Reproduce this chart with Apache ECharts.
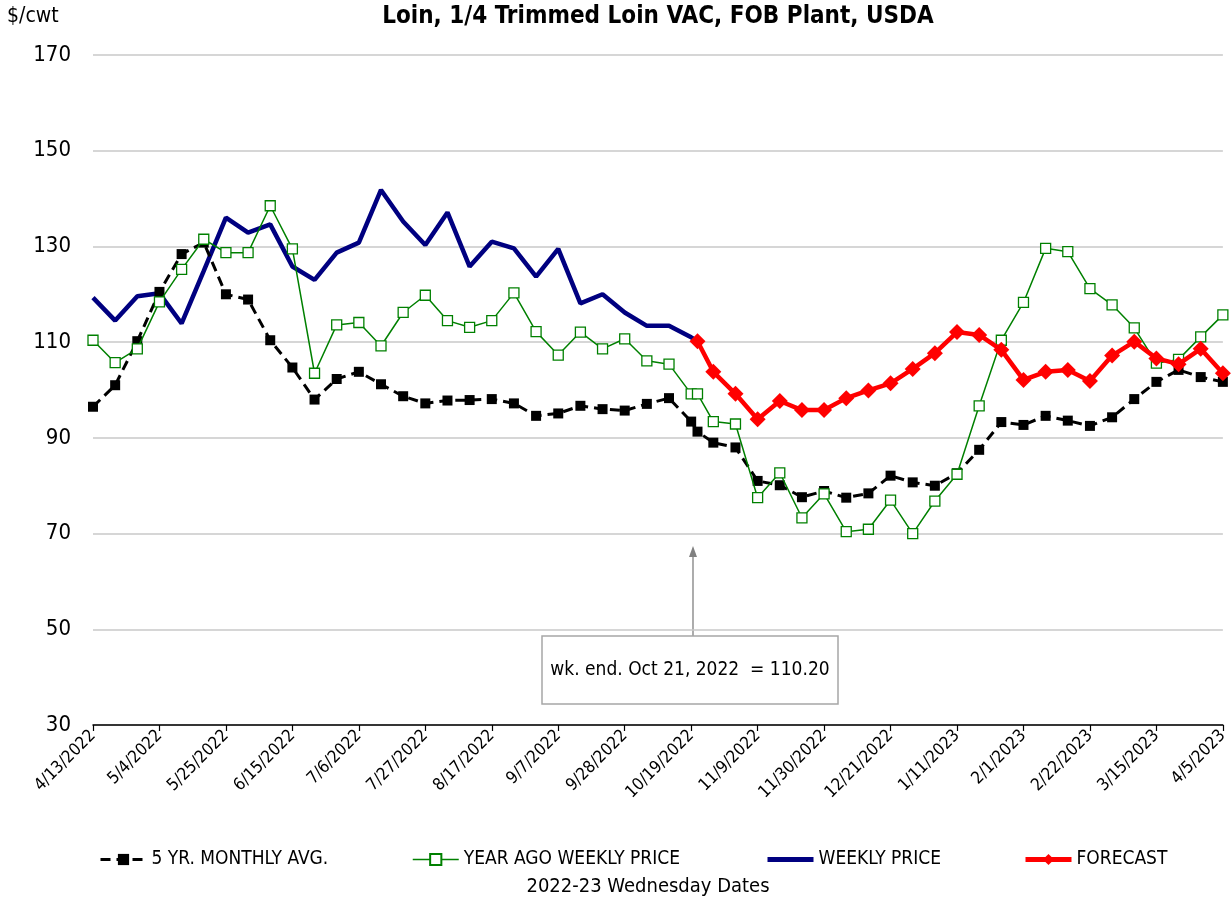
<!DOCTYPE html>
<html>
<head>
<meta charset="utf-8">
<title>Loin, 1/4 Trimmed Loin VAC, FOB Plant, USDA</title>
<script src="https://cdn.jsdelivr.net/npm/echarts@6/dist/echarts.min.js"></script>
<style>
  html, body { margin: 0; padding: 0; background: #fff; }
  #chart { width: 1231px; height: 901px; }
</style>
</head>
<body>
<div id="chart"></div>
<script>
// weekly Wednesday dates, plus the Friday 10/21 where the forecast starts
var dates = [
  '4/13/2022', '4/20/2022', '4/27/2022', '5/4/2022', '5/11/2022', '5/18/2022', '5/25/2022',
  '6/1/2022', '6/8/2022', '6/15/2022', '6/22/2022', '6/29/2022', '7/6/2022', '7/13/2022',
  '7/20/2022', '7/27/2022', '8/3/2022', '8/10/2022', '8/17/2022', '8/24/2022', '8/31/2022',
  '9/7/2022', '9/14/2022', '9/21/2022', '9/28/2022', '10/5/2022', '10/12/2022', '10/19/2022',
  '10/21/2022',
  '10/26/2022', '11/2/2022', '11/9/2022', '11/16/2022', '11/23/2022', '11/30/2022', '12/7/2022',
  '12/14/2022', '12/21/2022', '12/28/2022', '1/4/2023', '1/11/2023', '1/18/2023', '1/25/2023',
  '2/1/2023', '2/8/2023', '2/15/2023', '2/22/2023', '3/1/2023', '3/8/2023', '3/15/2023',
  '3/22/2023', '3/29/2023', '4/5/2023'
];

var tickLabels = [
  '4/13/2022', '5/4/2022', '5/25/2022', '6/15/2022', '7/6/2022', '7/27/2022', '8/17/2022',
  '9/7/2022', '9/28/2022', '10/19/2022', '11/9/2022', '11/30/2022', '12/21/2022', '1/11/2023',
  '2/1/2023', '2/22/2023', '3/15/2023', '4/5/2023'
];

var fiveYrAvg = [
  96.5, 101.0, 110.2, 120.5, 128.4, 130.8, 120.0, 118.9, 110.4, 104.7, 98.0, 102.3, 103.8, 101.2,
  98.7, 97.2, 97.8, 97.9, 98.1, 97.2, 94.6, 95.1, 96.7, 96.0, 95.7, 97.1, 98.3, 93.4,
  91.3,
  89.0, 88.0, 81.0, 80.1, 77.6, 78.9, 77.5, 78.4, 82.1, 80.7, 80.0, 82.6, 87.5, 93.3,
  92.7, 94.6, 93.6, 92.5, 94.3, 98.1, 101.7, 104.2, 102.7, 101.7
];

var yearAgo = [
  110.4, 105.7, 108.6, 118.4, 125.2, 131.5, 128.7, 128.7, 138.5, 129.5, 103.5, 113.6, 114.1, 109.2,
  116.2, 119.8, 114.5, 113.1, 114.5, 120.3, 112.2, 107.3, 112.1, 108.6, 110.7, 106.1, 105.4, 99.2,
  99.2,
  93.4, 92.9, 77.5, 82.7, 73.3, 78.3, 70.4, 70.9, 77.0, 70.0, 76.8, 82.4, 96.7, 110.4,
  118.3, 129.6, 128.9, 121.2, 117.8, 113.0, 105.6, 106.4, 111.1, 115.7
];

var weekly = [
  119.3, 114.5, 119.6, 120.2, 113.9, 124.9, 136.0, 132.9, 134.6, 125.8, 123.0, 128.7, 130.8, 141.8,
  135.2, 130.3, 137.1, 125.8, 131.0, 129.6, 123.7, 129.5, 118.1, 120.0, 116.2, 113.4, 113.4, 111.0,
  110.2,
  null, null, null, null, null, null, null, null, null, null, null, null, null, null,
  null, null, null, null, null, null, null, null, null, null
];

var forecast = [
  null, null, null, null, null, null, null, null, null, null, null, null, null, null,
  null, null, null, null, null, null, null, null, null, null, null, null, null, null,
  110.2,
  103.8, 99.2, 93.9, 97.7, 95.8, 95.8, 98.3, 99.9, 101.4, 104.4, 107.7, 112.1, 111.5, 108.4,
  102.1, 103.8, 104.2, 101.9, 107.2, 110.1, 106.6, 105.4, 108.6, 103.5
];

var FONT = '"DejaVu Sans Condensed", "DejaVu Sans", sans-serif';

function dayOf(s) {
  var p = s.split('/');
  return Date.UTC(+p[2], +p[0] - 1, +p[1]) / 86400000;
}
var day0 = dayOf(dates[0]);
var xDays = dates.map(function (d) { return dayOf(d) - day0; });

function pairs(vals) {
  var out = [];
  for (var i = 0; i < vals.length; i++) {
    if (vals[i] != null) out.push([xDays[i], vals[i]]);
  }
  return out;
}

var chart = echarts.init(document.getElementById('chart'));

var legendBase = {
  orient: 'horizontal',
  top: 845,
  itemWidth: 46,
  itemHeight: 14,
  itemGap: 0,
  textStyle: { fontFamily: FONT, fontSize: 19, color: '#000' }
};

chart.setOption({
  animation: false,
  backgroundColor: '#fff',
  textStyle: { fontFamily: FONT },
  title: {
    text: 'Loin, 1/4 Trimmed Loin VAC, FOB Plant, USDA',
    left: 653,
    textAlign: 'center',
    top: 0,
    textStyle: { fontFamily: FONT, fontSize: 24, fontWeight: 'bold', color: '#000' }
  },
  legend: [
    Object.assign({}, legendBase, { left: 94,
      data: [{ name: '5 YR. MONTHLY AVG.', lineStyle: { width: 3 } }] }),
    Object.assign({}, legendBase, { left: 407,
      data: [{ name: 'YEAR AGO WEEKLY PRICE', lineStyle: { width: 1.5 } }] }),
    Object.assign({}, legendBase, { left: 760,
      data: [{ name: 'WEEKLY PRICE', itemStyle: { opacity: 0 }, lineStyle: { width: 5 } }] }),
    Object.assign({}, legendBase, { left: 1018,
      data: [{ name: 'FORECAST', lineStyle: { width: 5 } }] })
  ],
  grid: { left: 93, right: 8, top: 55, bottom: 176, containLabel: false },
  xAxis: {
    type: 'value',
    min: 0,
    max: 357,
    interval: 21,
    axisLine: { show: true, lineStyle: { color: '#000', width: 1.5 } },
    axisTick: { show: true, length: 6, lineStyle: { color: '#000', width: 1.2 } },
    splitLine: { show: false },
    axisLabel: {
      rotate: 45,
      fontSize: 17,
      fontFamily: FONT,
      color: '#000',
      margin: 8,
      formatter: function (v) { return tickLabels[Math.round(v / 21)] || ''; }
    }
  },
  yAxis: {
    type: 'value',
    min: 30,
    max: 170,
    interval: 20,
    axisLine: { show: false },
    axisTick: { show: false },
    splitLine: { show: true, lineStyle: { color: '#c8c8c8', width: 1.5 } },
    axisLabel: { fontSize: 22, fontFamily: FONT, color: '#000', margin: 22 }
  },
  graphic: [
    { type: 'text', left: 7, top: 6,
      style: { text: '$/cwt', font: '21px ' + FONT, fill: '#000' } },
    { type: 'text', x: 648, y: 887,
      style: { text: '2022-23 Wednesday Dates', font: '20px ' + FONT, fill: '#000',
               align: 'center', verticalAlign: 'middle' } },
    { type: 'line', shape: { x1: 693, y1: 636, x2: 693, y2: 556 },
      style: { stroke: '#808080', lineWidth: 1.3 } },
    { type: 'polygon', shape: { points: [[693, 546], [689, 557], [697, 557]] },
      style: { fill: '#808080' } },
    { type: 'rect', shape: { x: 542, y: 636, width: 296, height: 68 },
      style: { fill: '#fff', stroke: '#a6a6a6', lineWidth: 1.5 } },
    { type: 'text', x: 690, y: 670,
      style: { text: 'wk. end. Oct 21, 2022  = 110.20', font: '19px ' + FONT, fill: '#000',
               align: 'center', verticalAlign: 'middle' } }
  ],
  series: [
    {
      name: 'WEEKLY PRICE',
      type: 'line',
      data: pairs(weekly),
      symbol: 'none',
      lineStyle: { color: '#000080', width: 4.5 },
      itemStyle: { color: '#000080' },
      z: 2
    },
    {
      name: '5 YR. MONTHLY AVG.',
      type: 'line',
      data: pairs(fiveYrAvg),
      symbol: 'rect',
      symbolSize: 10,
      lineStyle: { color: '#000', width: 3, type: [10, 6] },
      itemStyle: { color: '#000' },
      z: 3
    },
    {
      name: 'YEAR AGO WEEKLY PRICE',
      type: 'line',
      data: pairs(yearAgo),
      symbol: 'rect',
      symbolSize: 10,
      lineStyle: { color: '#008000', width: 1.5 },
      itemStyle: { color: '#fff', borderColor: '#008000', borderWidth: 1.3 },
      z: 4
    },
    {
      name: 'FORECAST',
      type: 'line',
      data: pairs(forecast),
      symbol: 'diamond',
      symbolSize: 16,
      lineStyle: { color: '#ff0000', width: 4.5 },
      itemStyle: { color: '#ff0000' },
      z: 5
    }
  ]
});
</script>
</body>
</html>
